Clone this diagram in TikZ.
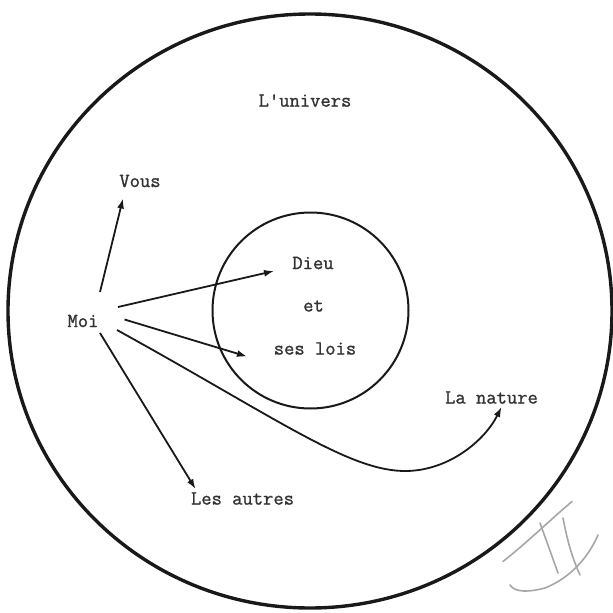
\documentclass[tikz,border=0pt]{standalone}
\usepackage{fontspec}
\newfontfamily\twfont[FakeBold=1.2]{Latin Modern Mono}
\usetikzlibrary{arrows.meta}
\begin{document}
\begin{tikzpicture}[x=1pt,y=-1pt,
  lbl/.style={font=\twfont\fontsize{20}{24}\selectfont, text=black!80, inner sep=1pt},
  arr/.style={line width=1.8pt, draw=black!90, -{Latex[length=10pt,width=7pt]}},
  pencil/.style={line width=1.6pt, draw=black!35, line cap=round}]
\useasboundingbox (0,0) rectangle (613,613);
% circles
\draw[line width=3.4pt, draw=black!90] (310,311) ellipse [x radius=302, y radius=297];
\draw[line width=2pt, draw=black!90] (310.5,310.5) circle [radius=98];
% labels
\node[lbl] (univers) at (305,100.5) {L'univers};
\node[lbl] (vous) at (140,181) {Vous};
\node[lbl] (moi) at (83,321) {Moi};
\node[lbl] (dieu) at (313,263) {Dieu};
\node[lbl] (et) at (313.5,306) {et};
\node[lbl] (lois) at (315,348.5) {ses lois};
\node[lbl] (nature) at (491.5,397.5) {La nature};
\node[lbl] (autres) at (242.5,498.5) {Les autres};
% connector end points
\coordinate (s1) at (100,292);
\coordinate (t1) at (123,198.5);
\coordinate (s2) at (118,307);
\coordinate (t2) at (274,271);
\coordinate (s3) at (124.5,319.5);
\coordinate (t3) at (247,356.5);
\coordinate (s4) at (100,333);
\coordinate (t4) at (195.5,489);
\coordinate (s5) at (117,330);
\coordinate (b5) at (407,471);
\coordinate (t5) at (501.5,407);
\draw[arr] (s1) -- (t1);
\draw[arr] (s2) -- (t2);
\draw[arr] (s3) -- (t3);
\draw[arr] (s4) -- (t4);
\draw[arr] (s5) .. controls (280,420) and (350,472) .. (b5) .. controls (450,470) and (485,440) .. (t5);
% pencil mark
\draw[pencil] (503,561.5) .. controls (530,540) and (550,520) .. (572,501.5);
\draw[pencil] (540,523) -- (558,573);
\draw[pencil] (563,518) .. controls (568,545) and (574,562) .. (580,575);
\draw[pencil] (510,585) .. controls (515,593) and (530,592) .. (545,588) .. controls (570,578) and (588,558) .. (598,535);
\end{tikzpicture}
\end{document}
